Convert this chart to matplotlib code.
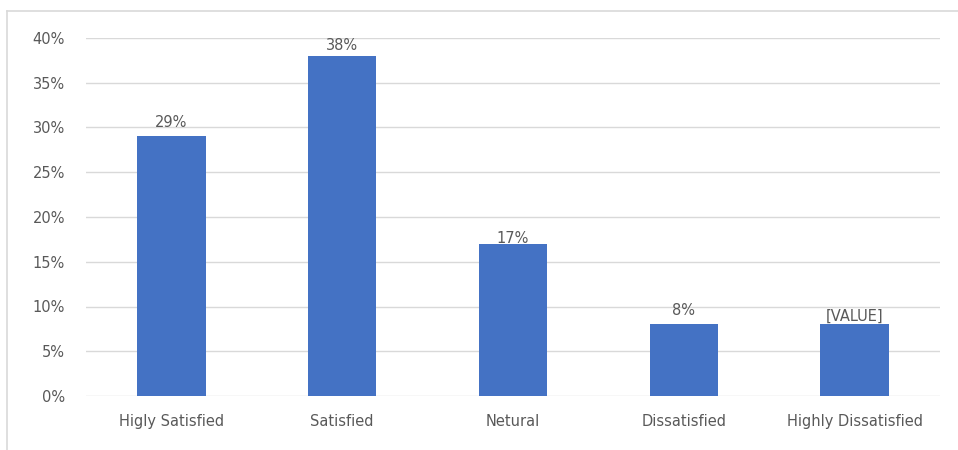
import matplotlib.pyplot as plt
from matplotlib.lines import Line2D
from matplotlib.ticker import FuncFormatter

categories = ["Higly Satisfied", "Satisfied", "Netural", "Dissatisfied", "Highly Dissatisfied"]
values = [29, 38, 17, 8, 8]
value_labels = ["29%", "38%", "17%", "8%", "[VALUE]"]
y_ticks = [0, 5, 10, 15, 20, 25, 30, 35, 40]

# hand-placed label lift above each bar (points)
label_lift = [7.0, 4.3, 0.3, 6.5, 2.8]

plt.rcParams['font.family'] = ['DejaVu Sans']
text_color = "#595959"
grid_color = "#d9d9d9"
bar_color = "#4472C4"

fig = plt.figure(figsize=(9.58, 4.5), dpi=100)
ax = fig.add_axes([86 / 958, 1 - 396 / 450, (940 - 86) / 958, (396 - 38) / 450])

x = range(len(categories))
bars = ax.bar(x, values, width=0.4, color=bar_color, zorder=3)

for b, lab, lift in zip(bars, value_labels, label_lift):
    ax.annotate(lab, (b.get_x() + b.get_width() / 2, b.get_height()),
                xytext=(0, lift), textcoords="offset points",
                ha="center", va="baseline", fontsize=10.5, color=text_color,
                annotation_clip=False)

ax.set_ylim(0, 40)
ax.set_xlim(-0.5, len(categories) - 0.5)
ax.set_yticks(y_ticks)
ax.yaxis.set_major_formatter(FuncFormatter(lambda v, p: f"{v:.0f}%"))
ax.set_xticks(list(x))
ax.set_xticklabels(categories)
ax.tick_params(axis="both", length=0, labelsize=10.5, labelcolor=text_color)
ax.tick_params(axis="y", pad=15)
ax.tick_params(axis="x", pad=13)
ax.grid(axis="y", color=grid_color, linewidth=1, zorder=0)
for s in ax.spines.values():
    s.set_visible(False)

# outer chart border (top and left edges)
W, H = 958, 450
fig.add_artist(Line2D([6.5 / W, 1.0], [1 - 10.5 / H, 1 - 10.5 / H],
                      transform=fig.transFigure, color=grid_color, linewidth=1.2))
fig.add_artist(Line2D([6.5 / W, 6.5 / W], [0.0, 1 - 10.5 / H],
                      transform=fig.transFigure, color=grid_color, linewidth=1.2))

fig.savefig("out.png", dpi=100)
